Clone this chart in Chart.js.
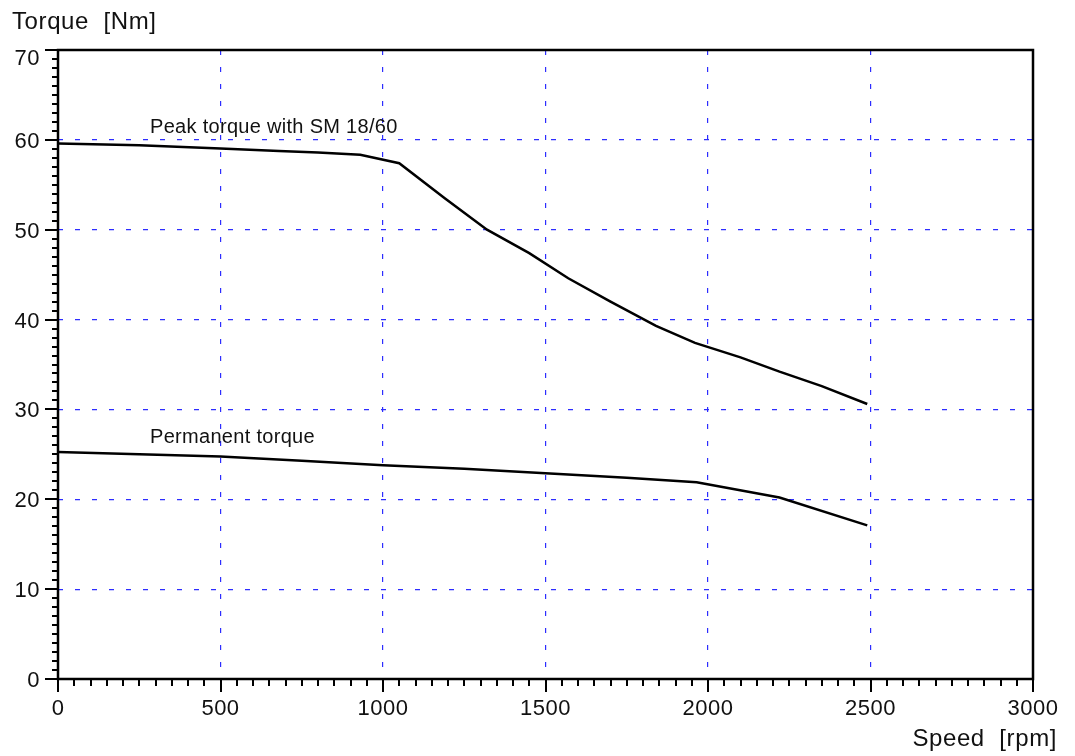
<!DOCTYPE html>
<html>
<head>
<meta charset="utf-8">
<script src="https://cdn.jsdelivr.net/npm/chart.js@4.4.1/dist/chart.umd.min.js"></script>
<style>
html,body{margin:0;padding:0;background:#fff;}
#wrap{width:1075px;height:756px;}
</style>
</head>
<body>
<div id="wrap"><canvas id="c" width="1075" height="756"></canvas></div>
<script>
// ---- data ----
const peakSpeed  = [0, 250, 500, 680, 800, 930, 1050, 1190, 1320, 1450, 1570, 1700, 1840, 1960, 2100, 2220, 2350, 2490];
const peakTorque = [59.6, 59.4, 59.05, 58.75, 58.6, 58.35, 57.4, 53.5, 50.0, 47.4, 44.6, 42.0, 39.3, 37.4, 35.8, 34.2, 32.6, 30.6];
const permSpeed  = [0, 250, 500, 750, 1000, 1250, 1500, 1750, 1965, 2220, 2490];
const permTorque = [25.25, 25.0, 24.75, 24.3, 23.8, 23.4, 22.9, 22.4, 21.9, 20.2, 17.1];
const xTickLabels = [0, 500, 1000, 1500, 2000, 2500, 3000];
const yTickLabels = [0, 10, 20, 30, 40, 50, 60, 70];
const peakLabel = 'Peak torque with SM 18/60';
const permLabel = 'Permanent torque';
const xTitle = 'Speed  [rpm]';
const yTitle = 'Torque  [Nm]';

const FONT = '"Liberation Sans", Arial, Helvetica, sans-serif';
const GRID = 'rgb(45,45,255)';

const overlay = {
  id: 'overlay',
  afterDraw(chart) {
    const ctx = chart.ctx;
    const xs = chart.scales.x, ys = chart.scales.y;
    const a = chart.chartArea;
    ctx.save();
    ctx.strokeStyle = '#000';
    ctx.lineCap = 'butt';
    // tick marks
    ctx.lineWidth = 2;
    for (let v = 0; v <= 3000; v += 50) {
      const px = Math.round(xs.getPixelForValue(v));
      const major = v % 500 === 0;
      ctx.beginPath();
      ctx.moveTo(px, a.bottom);
      ctx.lineTo(px, a.bottom + (major ? 13 : 7));
      ctx.stroke();
    }
    for (let v = 0; v <= 70; v += 1) {
      const py = Math.round(ys.getPixelForValue(v));
      const major = v % 10 === 0;
      ctx.beginPath();
      ctx.moveTo(a.left, py);
      ctx.lineTo(a.left - (major ? 13 : 6), py);
      ctx.stroke();
    }
    // frame
    ctx.lineWidth = 2.5;
    ctx.strokeRect(a.left, a.top, a.right - a.left, a.bottom - a.top);

    // tick labels
    ctx.fillStyle = '#111';
    ctx.font = '22px ' + FONT;
    ctx.letterSpacing = '0.5px';
    ctx.textAlign = 'center';
    ctx.textBaseline = 'alphabetic';
    xTickLabels.forEach(v => {
      ctx.fillText(String(v), xs.getPixelForValue(v), 715);
    });
    ctx.textAlign = 'right';
    yTickLabels.forEach(v => {
      let py = ys.getPixelForValue(v) + 8;
      if (v === 70) py += 7;
      ctx.fillText(String(v), 40, py);
    });

    // axis titles
    ctx.font = '24px ' + FONT;
    ctx.letterSpacing = '0.6px';
    ctx.textAlign = 'left';
    ctx.fillText(yTitle, 12, 29);
    ctx.textAlign = 'right';
    ctx.fillText(xTitle, 1057, 746);

    // curve labels
    ctx.font = '20px ' + FONT;
    ctx.letterSpacing = '0.3px';
    ctx.textAlign = 'left';
    ctx.fillText(peakLabel, 150, 133);
    ctx.fillText(permLabel, 150, 443);
    ctx.restore();
  }
};

new Chart(document.getElementById('c'), {
  type: 'line',
  data: {
    datasets: [
      {
        label: peakLabel,
        data: peakSpeed.map((s, i) => ({x: s, y: peakTorque[i]})),
        borderColor: '#000', borderWidth: 2.5, pointRadius: 0, tension: 0, fill: false
      },
      {
        label: permLabel,
        data: permSpeed.map((s, i) => ({x: s, y: permTorque[i]})),
        borderColor: '#000', borderWidth: 2.5, pointRadius: 0, tension: 0, fill: false
      }
    ]
  },
  options: {
    responsive: false,
    animation: false,
    events: [],
    layout: {padding: {left: 0, right: 42, top: 50, bottom: 0}},
    plugins: {legend: {display: false}, tooltip: {enabled: false}, title: {display: false}},
    scales: {
      x: {
        type: 'linear', min: 0, max: 3000,
        ticks: {stepSize: 500, display: false},
        grid: {color: GRID, lineWidth: 1.2, drawTicks: false},
        border: {display: false, dash: [5, 12]},
        afterFit(s) { s.height = 77; }
      },
      y: {
        type: 'linear', min: 0, max: 70,
        ticks: {stepSize: 10, display: false},
        grid: {color: GRID, lineWidth: 1.2, drawTicks: false},
        border: {display: false, dash: [5, 12]},
        afterFit(s) { s.width = 58; }
      }
    }
  },
  plugins: [overlay]
});
</script>
</body>
</html>
